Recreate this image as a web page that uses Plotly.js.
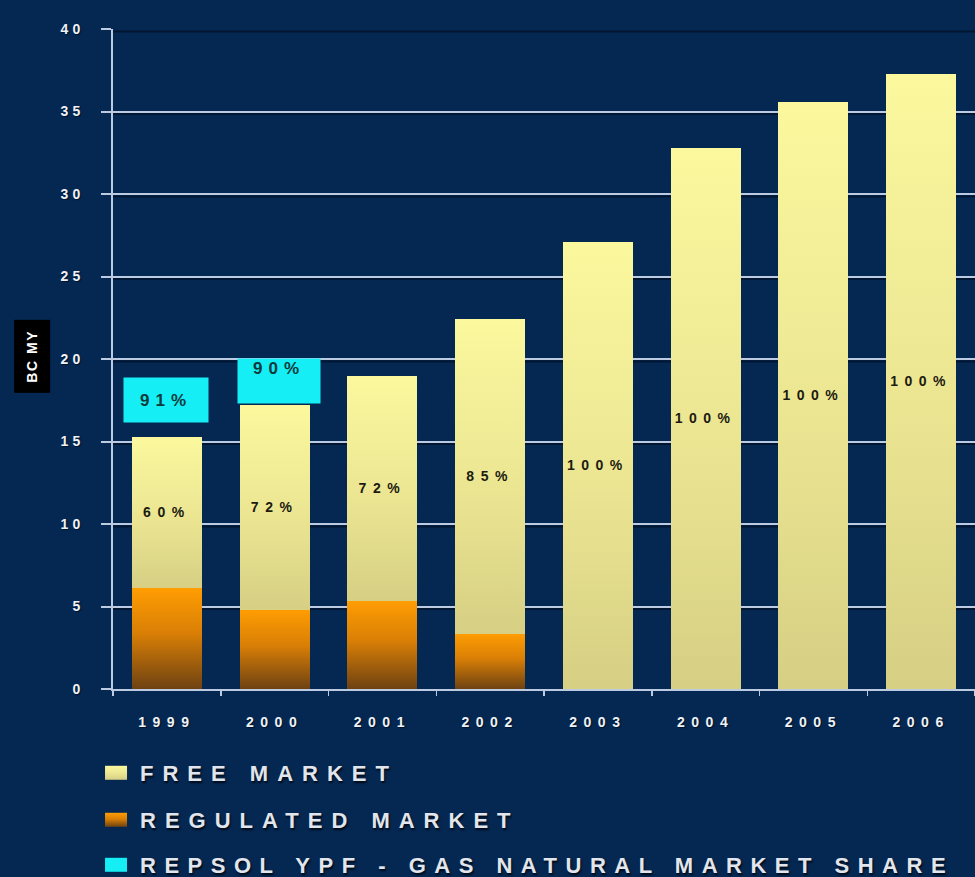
<!DOCTYPE html>
<html>
<head>
<meta charset="utf-8">
<script src="https://cdn.plot.ly/plotly-3.0.1.min.js"></script>
<style>
  html, body { margin: 0; padding: 0; background: #042852; }
  #chart { width: 975px; height: 877px; }
</style>
</head>
<body>
<div id="chart"></div>
<script>
// Gas demand by year (billion cubic metres / year)
const years = ['1999', '2000', '2001', '2002', '2003', '2004', '2005', '2006'];
const totalDemand = [15.3, 17.2, 19.0, 22.4, 27.1, 32.8, 35.6, 37.3];
// Share of demand supplied on the free (liberalised) market, %
const freeShare = [60, 72, 72, 85, 100, 100, 100, 100];
// Repsol YPF - Gas Natural market share, %
const shareYears = ['1999', '2000'];
const marketShare = [91, 90];
const yTicks = [0, 5, 10, 15, 20, 25, 30, 35, 40];

const freeVals = totalDemand.map((t, i) => t * freeShare[i] / 100);
const regulatedVals = totalDemand.map((t, i) => t - freeVals[i]);

const FONT = '"Liberation Sans", Arial, sans-serif';
const spaced = (s, px) => `<span style="letter-spacing:${px}px">${s}</span>`;

const traces = [
  {
    type: 'bar', name: spaced('REGULATED MARKET', 9), x: years, y: regulatedVals,
    width: 0.65, marker: { color: '#e08a10', line: { width: 0 } },
    legend: 'legend2', hoverinfo: 'skip'
  },
  {
    type: 'bar', name: spaced('FREE MARKET', 9), x: years, y: freeVals,
    width: 0.65, marker: { color: '#eeea98', line: { width: 0 } },
    text: freeShare.map(v => spaced(v + '%', 6.5)),
    textposition: 'inside', insidetextanchor: 'middle', constraintext: 'none',
    textangle: 0,
    insidetextfont: { family: FONT, size: 14, weight: 'bold', color: '#1c1b10' },
    legend: 'legend', hoverinfo: 'skip'
  },
  {
    type: 'bar', name: spaced('REPSOL YPF - GAS NATURAL MARKET SHARE', 8.5),
    x: shareYears, y: shareYears.map(() => null),
    marker: { color: '#14eef4', line: { width: 0 } },
    legend: 'legend3', hoverinfo: 'skip'
  }
];

const gridCol = '#bccbe2';
const tickFont = { family: FONT, size: 14, weight: 'bold', color: '#eef2f6', shadow: '1px 1px 1px #00122a' };
const legendFont = { family: FONT, size: 22, weight: 'bold', color: '#e2e6ec', shadow: '1px 2px 2px #000a18' };
const legendBase = {
  xref: 'container', yref: 'container', x: 0.1026, xanchor: 'left', yanchor: 'middle',
  bgcolor: 'rgba(0,0,0,0)', font: legendFont, itemwidth: 30, visible: true
};

const shareBox = (i, opts) => Object.assign({
  xref: 'x', yref: 'y', x: years.indexOf(shareYears[i]), y: totalDemand[years.indexOf(shareYears[i])],
  yanchor: 'bottom', text: spaced(marketShare[i] + '%', 6), showarrow: false,
  bgcolor: '#14eef4', width: 84, height: 44, borderpad: 0,
  font: { family: FONT, size: 17, weight: 'bold', color: '#0f3a3c' }
}, opts);

const annotations = [
  shareBox(0, { yshift: 14, xshift: -1 }),
  shareBox(1, { yshift: 1, xshift: 4, width: 82, valign: 'top' }),
  {
    xref: 'paper', yref: 'paper', x: -0.094, y: 0.504, xanchor: 'center', yanchor: 'middle',
    text: spaced('BC MY', 1.5), textangle: -90, showarrow: false,
    bgcolor: '#000000', width: 72, height: 35, borderpad: 0,
    font: { family: FONT, size: 14, weight: 'bold', color: '#ffffff' }
  }
];

// Dark drop shadow just beneath each horizontal gridline
const gridShadows = yTicks.filter(v => v > 0).map(v => ({
  type: 'line', layer: 'below', xref: 'paper', x0: 0, x1: 1,
  yref: 'y', ysizemode: 'pixel', yanchor: v, y0: -2.5, y1: -2.5,
  line: { color: '#001632', width: 2 }
}));

const layout = {
  width: 975, height: 877,
  margin: { l: 113, r: 0, t: 29, b: 188, autoexpand: false },
  paper_bgcolor: '#042852', plot_bgcolor: '#042852',
  barmode: 'stack', bargap: 0.35, showlegend: true,
  font: { family: FONT, color: '#ffffff' },
  xaxis: {
    type: 'category', categoryorder: 'array', categoryarray: years,
    range: [-0.5, years.length - 0.5],
    showgrid: false, showline: true, linecolor: gridCol, linewidth: 2,
    ticks: 'outside', tickson: 'boundaries', ticklen: 5, tickwidth: 1.5, tickcolor: gridCol,
    tickvals: years, ticktext: years.map(y => spaced(y, 6.5)), tickangle: 0,
    tickfont: tickFont, ticklabelstandoff: 19, fixedrange: true
  },
  yaxis: {
    range: [0, 40], showgrid: true, gridcolor: gridCol, gridwidth: 2,
    zeroline: false, showline: true, linecolor: gridCol, linewidth: 2,
    ticks: 'outside', ticklen: 10, tickwidth: 2, tickcolor: gridCol,
    tickvals: yTicks, ticktext: yTicks.map(v => spaced(String(v), 4)),
    tickfont: tickFont, ticklabelstandoff: 14, fixedrange: true
  },
  legend: Object.assign({}, legendBase, { y: 0.1186 }),
  legend2: Object.assign({}, legendBase, { y: 0.0650 }),
  legend3: Object.assign({}, legendBase, { y: 0.0137 }),
  shapes: gridShadows,
  annotations: annotations,
  hovermode: false
};

// Vertical fills for the bar segments and legend swatches
function addGradient(defs, id, stops) {
  const ns = 'http://www.w3.org/2000/svg';
  const g = document.createElementNS(ns, 'linearGradient');
  g.setAttribute('id', id);
  g.setAttribute('x1', '0'); g.setAttribute('y1', '0');
  g.setAttribute('x2', '0'); g.setAttribute('y2', '1');
  stops.forEach(([off, col]) => {
    const s = document.createElementNS(ns, 'stop');
    s.setAttribute('offset', off);
    s.setAttribute('stop-color', col);
    g.appendChild(s);
  });
  defs.appendChild(g);
}

function traceIndexOf(d) {
  let item = d;
  while (Array.isArray(item)) item = item[0];
  return item && item.trace ? item.trace.index : null;
}

Plotly.newPlot('chart', traces, layout, { displayModeBar: false, staticPlot: true }).then(gd => {
  const svg = gd.querySelector('.main-svg');
  const defs = svg.querySelector('defs');
  addGradient(defs, 'fillFree', [['0', '#fbf89e'], ['0.55', '#ebe592'], ['1', '#d6cf84']]);
  addGradient(defs, 'fillReg', [['0', '#ff9d02'], ['0.45', '#d97f06'], ['1', '#6e4212']]);
  addGradient(defs, 'fillShare', [['0', '#14eef4'], ['1', '#14eef4']]);
  const fills = ['url(#fillReg)', 'url(#fillFree)', 'url(#fillShare)'];

  gd.querySelectorAll('.barlayer .trace').forEach(tr => {
    const idx = traceIndexOf(tr.__data__);
    if (idx === null || idx === undefined) return;
    tr.querySelectorAll('path').forEach(p => { p.style.fill = fills[idx]; });
  });

  gd.querySelectorAll('.legendpoints').forEach(lp => {
    const idx = traceIndexOf(lp.__data__);
    if (idx === null || idx === undefined) return;
    lp.querySelectorAll('path').forEach(p => {
      p.setAttribute('d', 'M7,7H-15V-7H7Z');
      p.style.fill = fills[idx];
    });
  });
});
</script>
</body>
</html>
